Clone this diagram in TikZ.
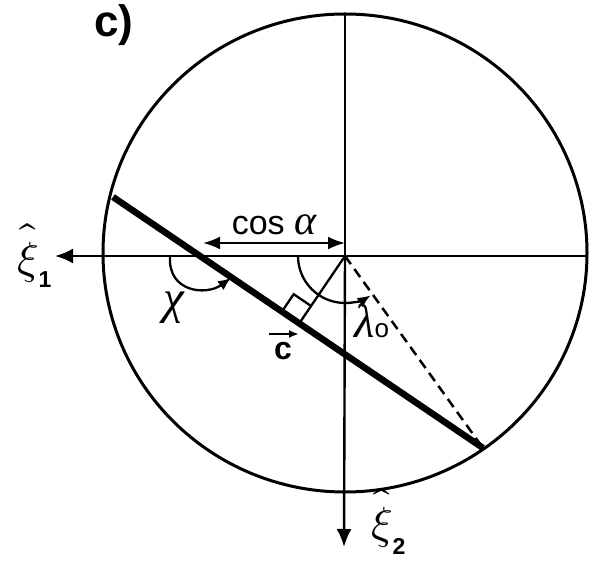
\documentclass[tikz,border=0pt]{standalone}
\usepackage{fontspec}
\usepackage{unicode-math}
\setmainfont{Liberation Sans}
\setmathfont{Latin Modern Math}
\newfontfamily\gk{Liberation Serif}
\usetikzlibrary{arrows.meta,calc}
\newcommand{\xihat}{$\widehat{\mbox{\raisebox{0pt}[\dimexpr\height+6pt\relax]{$\xi$}}}$}
\tikzset{
  axis/.style={line width=2.4pt,-{Latex[length=18pt,width=15pt]}},
  thin line/.style={line width=2.3pt},
  rim/.style={line width=3pt},
  thick line/.style={line width=6.5pt},
  dash line/.style={line width=2.5pt,dash pattern=on 10pt off 6pt},
  lbl/.style={inner sep=0pt,font=\fontsize{30}{36}\selectfont},
  greek/.style={inner sep=0pt,font=\gk\itshape\fontsize{47}{52}\selectfont},
  xilbl/.style={inner sep=0pt,font=\fontsize{45}{52}\selectfont,anchor=base west},
}
\begin{document}
\begin{tikzpicture}[x=1pt,y=1pt]
\useasboundingbox (0,0) rectangle (595,562);
% key points (image coords converted: y_user = 562 - y_img)
\coordinate (O) at (345,306);
\coordinate (C0) at (345,309);
\coordinate (top) at (345,548);
\coordinate (bot) at (344,15);
\coordinate (left) at (55,306);
\coordinate (right) at (587,306);
\coordinate (P1) at (113,365);
\coordinate (P2) at (483,114);
\coordinate (F) at ($(P1)!(O)!(P2)$);
\coordinate (A) at ($(F)!21pt!(P1)$);
\coordinate (B) at ($(F)!21pt!(O)$);
\coordinate (Q) at ($(A)+(B)-(F)$);
\coordinate (ca1) at (203,319);
\coordinate (ca2) at (345,319);
\coordinate (chiS) at (170,305);
\coordinate (chiE) at (231,284);
\coordinate (cv1) at (269,228);
\coordinate (cv2) at (299,228);

% circle
\draw[rim] (C0) ellipse[x radius=242, y radius=239];
% axes
\draw[thin line] (top) -- (O);
\draw[axis] (O) -- (bot);
\draw[thin line] (right) -- (O);
\draw[axis] (O) -- (left);
% thick line
\draw[thick line] (P1) -- (P2);
% dashed
\draw[dash line] (O) -- (P2);
% perpendicular
\draw[thin line] (O) -- (F);
\draw[thin line] (A) -- (Q) -- (B);
% cos alpha arrow
\draw[line width=2.3pt,{Latex[length=17pt,width=13pt]}-{Latex[length=17pt,width=13pt]}] (ca1) -- (ca2);
% chi arc
\draw[line width=2.3pt,-{Latex[length=13pt,width=11pt]}] (chiS) .. controls (168,270) and (206,266) .. (chiE);
% lambda arc
\draw[line width=2.3pt,-{Latex[length=13pt,width=11pt]}] ($(O)+(-47,0)$) arc[start angle=180,end angle=303,radius=47pt];
% vector c arrow
\draw[line width=2.3pt,-{Latex[length=10pt,width=8pt]}] (cv1) -- (cv2);

% labels
\node[lbl,font=\fontsize{44}{50}\selectfont\bfseries] (lc) at (114,537) {c)};
\node[lbl,font=\fontsize{34}{40}\selectfont,anchor=base] (lcos) at (274,327) {cos {\gk\itshape\fontsize{42}{46}\selectfont α}};
\node[greek] (lchi) at (174,254) {χ};
\node[greek,anchor=base west] (llam) at (354,224) {λ{\normalfont\fontsize{26}{30}\selectfont o}};
\node[lbl,font=\fontsize{32}{38}\selectfont\bfseries] (lcv) at (283,211) {c};
\node[xilbl] (lx1) at (17,288) {\xihat\raisebox{-14pt}{\normalfont\bfseries\fontsize{23}{28}\selectfont 1}};
\node[xilbl] (lx2) at (371,23) {\xihat\raisebox{-16pt}{\normalfont\bfseries\fontsize{23}{28}\selectfont 2}};
\end{tikzpicture}
\end{document}
